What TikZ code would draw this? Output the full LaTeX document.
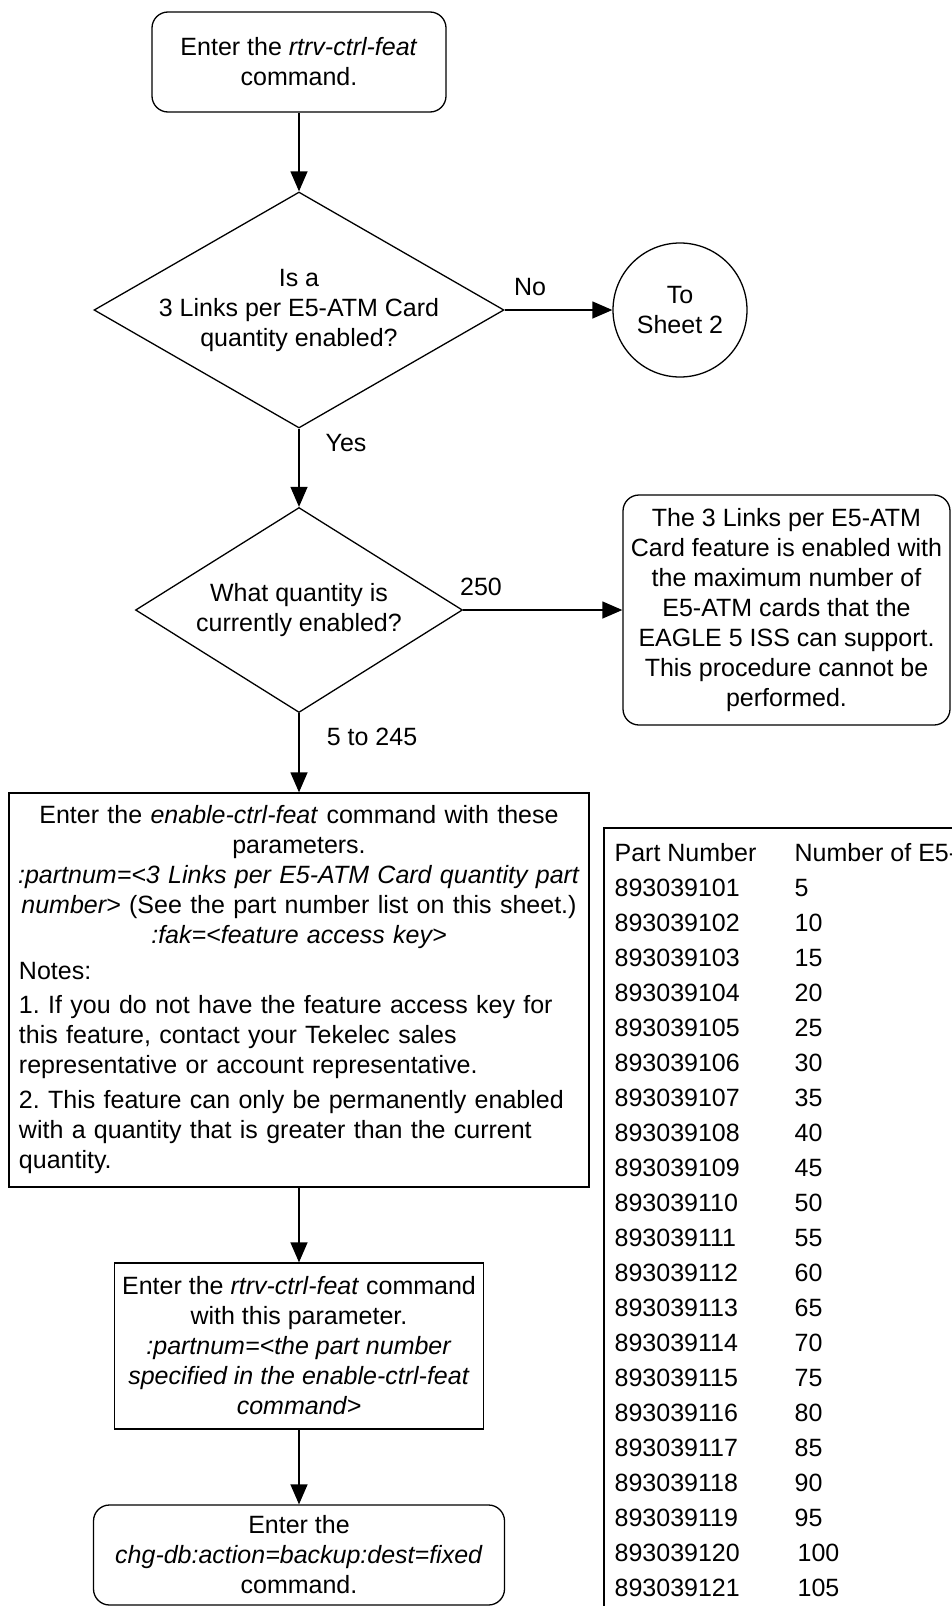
\documentclass[tikz,border=0pt]{standalone}
\usepackage{fontspec}
\setmainfont{Liberation Sans}
\usetikzlibrary{shapes.geometric,arrows.meta}
\begin{document}
\frenchspacing
\begin{tikzpicture}[x=1pt,y=-1pt,
  every node/.style={font=\fontsize{25}{30}\selectfont, inner sep=0pt},
  line width=1.3pt,
  arr/.style={-{Triangle[length=20pt,width=17pt]}},
  rbox/.style={draw, rounded corners=16pt, align=center},
  pbox/.style={draw, align=center},
  dec/.style={draw, diamond},
  cell/.style={anchor=west},
]
\useasboundingbox (0,0) rectangle (952,1606);

% flow nodes
\node[rbox, minimum width=294, minimum height=100] (top) at (299,62)
  {Enter the \textit{rtrv-ctrl-feat}\\command.};

\node[dec, minimum width=410, minimum height=236,
  label={[align=center]center:Is a\\3 Links per E5-ATM Card\\quantity enabled?}] (d1) at (299,310) {};

\node[draw, circle, minimum size=134, align=center] (c1) at (680,310) {To\\Sheet 2};

\node[dec, minimum width=327, minimum height=205,
  label={[align=center]center:What quantity is\\currently enabled?}] (d2) at (299,610) {};

\node[rbox, minimum width=327, minimum height=230] (rb) at (786.5,610)
  {The 3 Links per E5-ATM\\Card feature is enabled with\\the maximum number of\\E5-ATM cards that the\\EAGLE 5 ISS can support.\\This procedure cannot be\\performed.};

\node[draw, minimum width=580, minimum height=394, text width=580, align=left] (big) at (299,990)
  {{\centering Enter the \textit{enable-ctrl-feat} command with these\\
   parameters.\\
   \textit{:partnum=<3 Links per E5-ATM Card quantity part}\\
   \textit{number>} (See the part number list on this sheet.)\\
   \textit{:fak=<feature access key>}\par}
   \vspace{6pt}
   {\leftskip=10pt
   Notes:\par\vspace{4pt}
   1. If you do not have the feature access key for\\
   this feature, contact your Tekelec sales\\
   representative or account representative.\par\vspace{5pt}
   2. This feature can only be permanently enabled\\
   with a quantity that is greater than the current\\
   quantity.\par}};

\node[pbox, minimum width=369, minimum height=166] (b4) at (299,1346)
  {Enter the \textit{rtrv-ctrl-feat} command\\with this parameter.\\\textit{:partnum=<the part number}\\\textit{specified in the enable-ctrl-feat}\\\textit{command>}};

\node[rbox, minimum width=411, minimum height=100] (b5) at (299,1555)
  {Enter the\\\textit{chg-db:action=backup:dest=fixed}\\command.};

% connectors
\draw[arr] (top.south) -- (d1.north);
\draw[arr] (d1.east) -- (c1.west);
\draw[arr] (d1.south) -- (d2.north);
\draw[arr] (d2.east) -- (rb.west);
\draw[arr] (d2.south) -- (big.north);
\draw[arr] (big.south) -- (b4.north);
\draw[arr] (b4.south) -- (b5.north);

% connector labels
\node (lno) at (530,287) {No};
\node (lyes) at (346,443) {Yes};
\node (l250) at (481,587) {250};
\node (l5) at (372,737) {5 to 245};

% part number table
\draw (604,1606) -- (604,828) -- (952,828);
\node[cell] (hpn) at (614,853) {Part Number};
\node[cell] (hq) at (794,853) {Number of E5-};
\foreach \i in {1,...,21}{
  \pgfmathtruncatemacro{\q}{5*\i}
  \pgfmathsetmacro{\yy}{853+35*\i}
  \pgfmathsetmacro{\qx}{\q>=100 ? 797 : 794}
  \ifnum\i<10
    \node[cell] (pn\i) at (614,\yy) {89303910\i};
  \else
    \node[cell] (pn\i) at (614,\yy) {8930391\i};
  \fi
  \node[cell] (q\i) at (\qx,\yy) {\q};
}
\end{tikzpicture}
\end{document}
